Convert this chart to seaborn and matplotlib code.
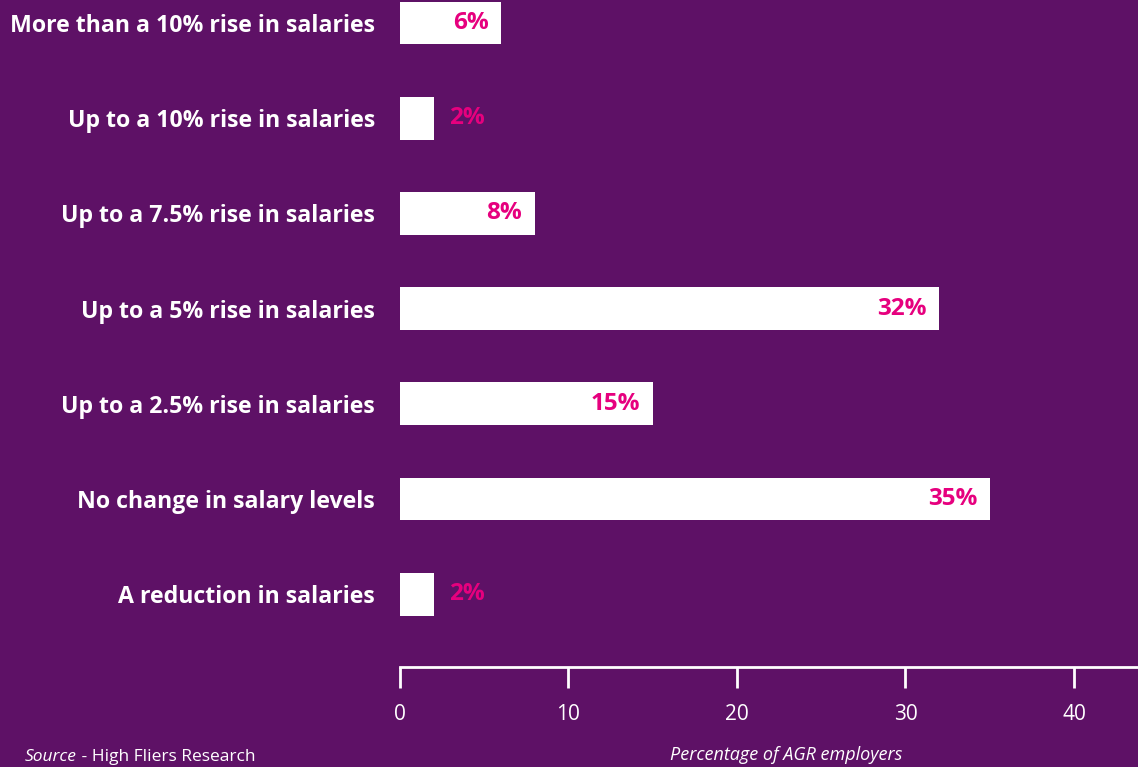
import matplotlib
matplotlib.use("Agg")
import matplotlib.pyplot as plt
import seaborn as sns
import pandas as pd

categories = [
    "More than a 10% rise in salaries",
    "Up to a 10% rise in salaries",
    "Up to a 7.5% rise in salaries",
    "Up to a 5% rise in salaries",
    "Up to a 2.5% rise in salaries",
    "No change in salary levels",
    "A reduction in salaries",
]
shares = [6, 2, 8, 32, 15, 35, 2]
x_ticks = [0, 10, 20, 30, 40]

BG = "#5E1166"
PINK = "#E6007E"

sns.set_theme(style="white")
plt.rcParams["font.family"] = ["Open Sans", "DejaVu Sans"]

df = pd.DataFrame({"category": categories, "share": shares})

fig = plt.figure(figsize=(11.38, 7.67), dpi=100, facecolor=BG)
ax = fig.add_axes([0.3515, 0.1304, 0.6485, 0.8696])
ax.set_facecolor(BG)

sns.barplot(data=df, x="share", y="category", orient="h", color="white",
            width=0.45, saturation=1, ax=ax)
for p in ax.patches:
    p.set_edgecolor("none")

ax.set_xlim(0, 43.8)
ax.set_ylim(6.765, -0.2416)

# value labels: inside the bar end when it fits, otherwise just past it
for i, v in enumerate(shares):
    txt = f"{v}%"
    inside = v >= 5
    ax.annotate(txt, (v, i), xytext=(-9 if inside else 11, 0),
                textcoords="offset points",
                ha="right" if inside else "left", va="center",
                color=PINK, fontsize=17.5, fontweight="bold")

ax.set_ylabel("")
ax.set_xlabel("")
ax.set_yticks(range(len(categories)))
ax.set_yticklabels(categories, color="white", fontsize=16.7, fontweight="bold")
ax.tick_params(axis="y", length=0, pad=18)

ax.set_xticks(x_ticks)
ax.set_xticklabels([str(t) for t in x_ticks], color="white", fontsize=15)
ax.tick_params(axis="x", direction="out", length=15, width=2, color="white",
               pad=12, bottom=True)

for s in ["top", "right", "left"]:
    ax.spines[s].set_visible(False)
ax.spines["bottom"].set_color("white")
ax.spines["bottom"].set_linewidth(2)

fig.text(0.691, 0.009, "Percentage of AGR employers", color="white",
         fontsize=13, fontstyle="italic", ha="center", va="baseline")
src = fig.text(0.022, 0.008, "Source", color="white", fontsize=12.5,
               fontstyle="italic", ha="left", va="baseline")
ax.annotate(" - High Fliers Research", xy=(1, 0), xycoords=src,
            xytext=(0, 0), textcoords="offset points", color="white",
            fontsize=12.5, ha="left", va="bottom", annotation_clip=False)

fig.savefig("out.png", dpi=100, facecolor=BG)
